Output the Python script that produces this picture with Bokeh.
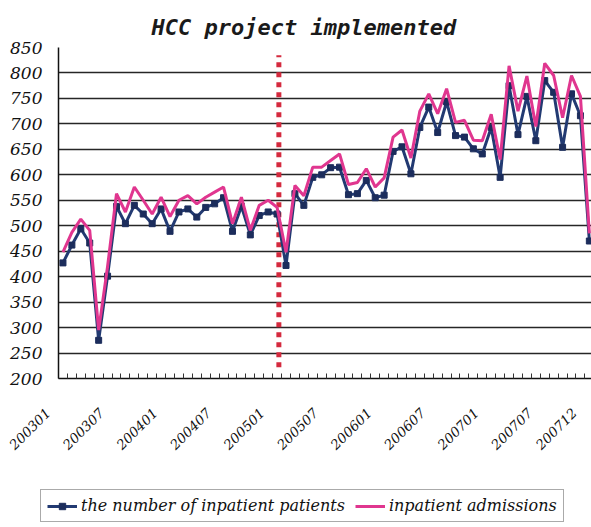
import math
from bokeh.plotting import figure
from bokeh.layouts import column
from bokeh.models import (ColumnDataSource, FixedTicker, Legend, LegendItem, Range1d)
from bokeh.core.properties import value
from bokeh.embed import file_html
from bokeh.resources import INLINE

# ---------------- data ----------------
months = [f"{y}{m:02d}" for y in range(2003, 2008) for m in range(1, 13)]

patients = [427, 462, 494, 466, 275, 401, 538, 504, 540, 523,
            504, 533, 489, 527, 533, 517, 536, 543, 555, 489,
            538, 482, 520, 527, 523, 422, 563, 540, 595, 600,
            614, 615, 561, 563, 589, 555, 560, 646, 655, 602,
            693, 733, 683, 743, 677, 674, 651, 641, 693, 595,
            775, 679, 754, 667, 785, 762, 654, 759, 716, 470]

admissions = [448, 487, 513, 491, 295, 420, 563, 527, 576, 550,
              523, 556, 518, 550, 559, 543, 556, 566, 576, 504,
              556, 491, 540, 550, 536, 448, 579, 559, 615, 615,
              628, 641, 581, 585, 612, 576, 594, 674, 688, 633,
              725, 759, 720, 769, 703, 707, 668, 667, 719, 630,
              814, 725, 794, 695, 819, 795, 712, 795, 754, 485]

tick_labels = ["200301", "200307", "200401", "200407", "200501", "200507",
               "200601", "200607", "200701", "200707", "200712"]
y_ticks = list(range(200, 851, 50))

hcc_start = 24.2           # month index where the HCC project starts
hcc_span = [222, 835]      # vertical extent of the marker line

series1_name = "the number of inpatient patients"
series2_name = "inpatient admissions"
title_text = "HCC project implemented"

NAVY, NAVY_MK, PINK, RED = "#223a72", "#1c2d5c", "#e0368f", "#d42a3e"

# ---------------- layout constants ----------------
W = 591
LEFT = 58
MAIN_H = 390
BOT_H = 527 - MAIN_H
idx = list(range(len(months)))
tick_index = [months.index(t) for t in tick_labels]
boundaries = [i - 0.5 for i in range(len(months) + 1)]
x_lo, x_hi = -0.5, 59.24
px_per_cat = (W - LEFT) / (x_hi - x_lo)

# ---------------- main chart ----------------
p = figure(width=W, height=MAIN_H, output_backend="svg", toolbar_location=None,
           x_range=Range1d(x_lo, x_hi), y_range=Range1d(200, 850),
           min_border_left=LEFT, min_border_right=0, min_border_top=47,
           min_border_bottom=MAIN_H - 378,
           background_fill_color="white", border_fill_color="white")
p.outline_line_color = None
p.frame_align = False

p.title.text = title_text
p.title.text_font = "DejaVu Sans Mono"
p.title.text_font_style = "bold italic"
p.title.text_font_size = "22px"
p.title.text_color = "#1a1a1a"
p.title.align = "left"
p.title.offset = 93
p.title.standoff = 16

p.xgrid.grid_line_color = None
p.ygrid.ticker = FixedTicker(ticks=y_ticks)
p.ygrid.grid_line_color = "#262626"
p.ygrid.grid_line_width = 1.5

p.yaxis.ticker = FixedTicker(ticks=y_ticks)
p.yaxis.major_tick_in = 0
p.yaxis.major_tick_out = 0
p.yaxis.minor_tick_in = 0
p.yaxis.minor_tick_out = 0
p.yaxis.axis_line_color = "#111111"
p.yaxis.axis_line_width = 1.5
p.yaxis.major_label_standoff = 16
p.yaxis.major_label_text_font = "DejaVu Serif"
p.yaxis.major_label_text_font_style = "italic"
p.yaxis.major_label_text_font_size = "17px"
p.yaxis.major_label_text_color = "#111111"

p.xaxis.ticker = FixedTicker(ticks=[], minor_ticks=boundaries)
p.xaxis.major_tick_in = 0
p.xaxis.major_tick_out = 0
p.xaxis.minor_tick_in = 5
p.xaxis.minor_tick_out = 0
p.xaxis.minor_tick_line_color = "#333333"
p.xaxis.axis_line_color = "#111111"
p.xaxis.axis_line_width = 1.5
p.xaxis.major_label_standoff = 0

p.segment(x0=[hcc_start], y0=[hcc_span[0]], x1=[hcc_start], y1=[hcc_span[1]],
          line_color=RED, line_width=5, line_dash="5 5")

src = ColumnDataSource(dict(x=idx, pat=patients, adm=admissions))
p.line("x", "pat", source=src, line_color=NAVY, line_width=3)
p.scatter("x", "pat", source=src, marker="square", size=6,
          fill_color=NAVY_MK, line_color=NAVY_MK)
p.line("x", "adm", source=src, line_color=PINK, line_width=3)

# ---------------- slanted category labels + legend ----------------
q = figure(width=W, height=BOT_H, output_backend="svg", toolbar_location=None,
           x_range=Range1d(x_lo - LEFT / px_per_cat, x_hi),
           y_range=Range1d(BOT_H, 0),
           x_axis_location=None, y_axis_location=None,
           min_border=0, min_border_left=0, min_border_right=0,
           min_border_top=0, min_border_bottom=0,
           background_fill_color="white", border_fill_color="white")
q.outline_line_color = None
q.grid.visible = False
q.frame_align = False

lab_src = ColumnDataSource(dict(x=tick_index, y=[410 - MAIN_H] * len(tick_index),
                                text=tick_labels))
q.text("x", "y", text="text", source=lab_src, angle=math.pi / 4,
       text_align="right", text_baseline="middle", x_offset=-15,
       text_font=value("DejaVu Serif"), text_font_style="italic",
       text_font_size="13.5px", text_color="#111111")

nan = float("nan")
d1 = q.line(x=[nan], y=[nan], line_color=NAVY, line_width=3)
d2 = q.scatter(x=[nan], y=[nan], marker="square", size=6,
               fill_color=NAVY_MK, line_color=NAVY_MK)
d3 = q.line(x=[nan], y=[nan], line_color=PINK, line_width=3)

legend = Legend(items=[LegendItem(label=series1_name, renderers=[d1, d2]),
                       LegendItem(label=series2_name, renderers=[d3])],
                orientation="horizontal", location=(40, 5),
                label_text_font="DejaVu Serif", label_text_font_style="italic",
                label_text_font_size="16px", label_text_color="#111111",
                glyph_width=30, glyph_height=16, label_height=16,
                label_standoff=4, spacing=10, padding=6, margin=0,
                border_line_color="#555555", border_line_width=1)
q.add_layout(legend)

layout = column(p, q, spacing=0)
open("out.html", "w").write(file_html(layout, INLINE))
